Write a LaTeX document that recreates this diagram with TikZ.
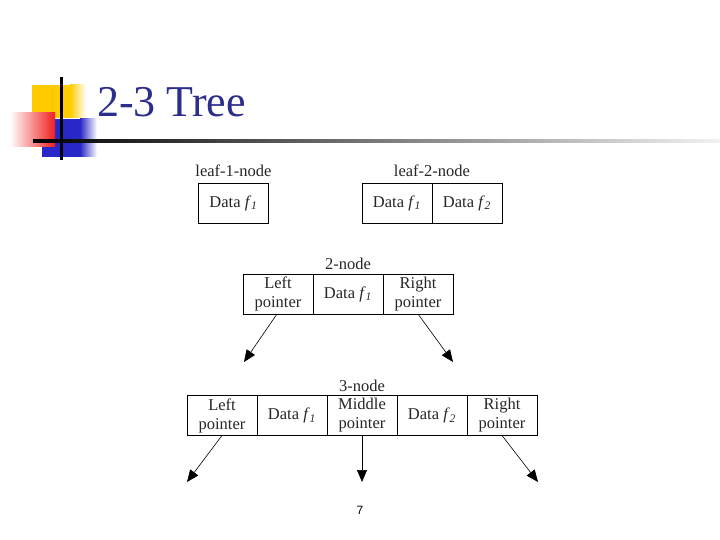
\documentclass[tikz,border=0pt]{standalone}
\usepackage{fontspec}
\setmainfont{Liberation Serif}
\newfontfamily\pagefont{Liberation Sans}
\definecolor{titleblue}{RGB}{44,46,140}
\definecolor{decoyellow}{RGB}{255,204,0}
\definecolor{decoblue}{RGB}{40,40,200}
\definecolor{decored}{RGB}{240,30,30}
\usetikzlibrary{arrows.meta, positioning}
\newcommand{\fdat}[1]{Data \textit{f}\textsubscript{\textit{#1}}}

\begin{document}
\begin{tikzpicture}[x=1pt, y=-1pt,
    cell/.style={draw, line width=0.8pt, minimum width=70pt, minimum height=40pt, inner sep=0pt, outer sep=0pt, align=center, text=black!85, font=\fontsize{16.5}{19}\selectfont},
    tag/.style={text=black!85, font=\fontsize{16.5}{19}\selectfont, inner sep=1pt},
    ptr/.style={line width=0.6pt, -{Triangle[length=12pt, width=10pt]}}]
\useasboundingbox (0,0) rectangle (720,540);
\fill[white] (0,0) rectangle (720,540);

% title decoration
\fill[decoyellow] (32,85) rectangle (70,118);
\shade[left color=decoyellow, right color=white] (70,85) rectangle (86,118);
\fill[decoblue] (42,119) rectangle (80,157);
\shade[left color=decoblue, right color=white] (80,119) rectangle (97,157);
\shade[left color=white, right color=decored] (10,113) rectangle (55,147);
\shade[left color=black, right color=black!5] (33,139.5) rectangle (720,142.5);
\fill[black] (59.5,77) rectangle (62.5,160);
\node[anchor=base west, inner sep=0pt, text=titleblue, font=\fontsize{44}{44}\selectfont] (title) at (97,117) {2-3 Tree};

% leaf-1-node
\node[cell] (la) at (233.5,203) {\fdat{1}};
\node[tag, above=5pt of la] (laname) {leaf-1-node};

% leaf-2-node
\node[cell] (lba) at (397,203) {\fdat{1}};
\node[cell, right=0pt of lba] (lbb) {\fdat{2}};
\node[tag, above=5pt of lba.north east] (lbname) {leaf-2-node};

% 2-node
\node[cell] (ta) at (278,294) {Left\\pointer};
\node[cell, right=0pt of ta] (tb) {\fdat{1}};
\node[cell, right=0pt of tb] (tc) {Right\\pointer};
\node[tag, above=3pt of tb] (tname) {2-node};
\coordinate (tal) at (244,362);
\coordinate (tcr) at (453,362);
\draw[ptr] ([xshift=-1pt]ta.south) -- (tal);
\draw[ptr] (tc.south) -- (tcr);

% 3-node
\node[cell] (ha) at (222,415.5) {Left\\pointer};
\node[cell, right=0pt of ha] (hb) {\fdat{1}};
\node[cell, right=0pt of hb] (hc) {Middle\\pointer};
\node[cell, right=0pt of hc] (hd) {\fdat{2}};
\node[cell, right=0pt of hd] (he) {Right\\pointer};
\node[tag, above=3pt of hc] (hname) {3-node};
\coordinate (hal) at (187,482);
\coordinate (hcm) at (362,482);
\coordinate (her) at (538,482);
\draw[ptr] (ha.south) -- (hal);
\draw[ptr] (hc.south) -- (hcm);
\draw[ptr] (he.south) -- (her);

\node[font=\pagefont\fontsize{12}{12}\selectfont] (page) at (360,510) {7};
\end{tikzpicture}
\end{document}
